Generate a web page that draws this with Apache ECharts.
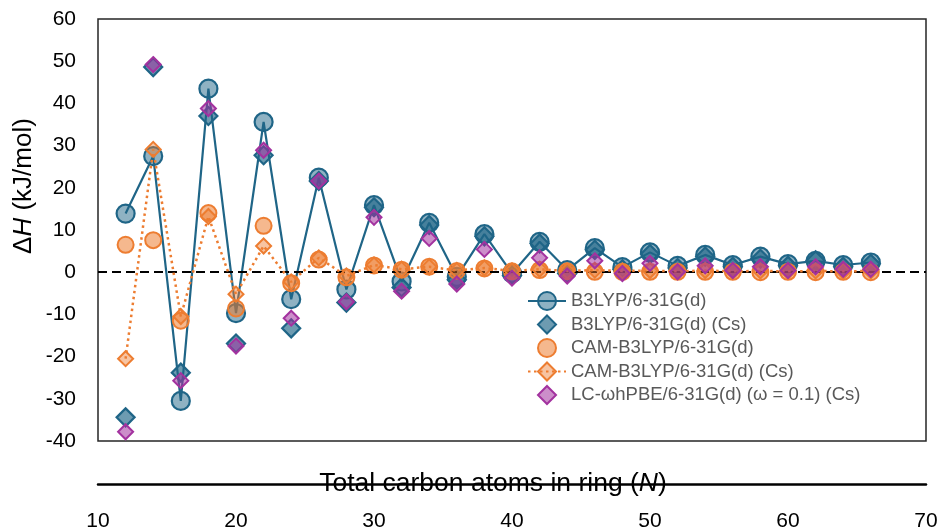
<!DOCTYPE html>
<html>
<head>
<meta charset="utf-8">
<script src="https://cdn.jsdelivr.net/npm/echarts@6/dist/echarts.min.js"></script>
<style>
html,body{margin:0;padding:0;background:#fff;}
#chart{width:940px;height:529px;}
</style>
</head>
<body>
<div id="chart"></div>
<script>
const carbons = [12,14,16,18,20,22,24,26,28,30,32,34,36,38,40,42,44,46,48,50,52,54,56,58,60,62,64,66];
const b3lyp   = [13.9, 27.5, -30.5, 43.5, -9.7, 35.6, -6.4, 22.4, -4.1, 15.9, -2.2, 11.7, -1.1, 9.0, -0.3, 7.2, 0.5, 5.7, 1.2, 4.7, 1.5, 4.1, 1.7, 3.7, 1.9, 2.7, 1.7, 2.3];
const b3lypCs = [-34.4, 48.6, -23.8, 37.0, -16.9, 27.7, -13.3, 21.6, -7.2, 15.4, -3.6, 11.2, -1.8, 8.5, -0.8, 6.8, -0.3, 5.3, 0.7, 4.3, 1.0, 3.7, 1.3, 3.2, 1.5, 2.8, 1.3, 2.0];
const cam     = [6.5, 7.6, -11.5, 14.0, -8.6, 11.0, -2.6, 3.0, -1.2, 1.6, 0.6, 1.3, 0.3, 0.9, 0.2, 0.5, 0.2, 0.1, 0.1, 0.1, 0.1, 0.1, 0.1, 0.0, 0.1, 0.0, 0.1, 0.0];
const camCs   = [-20.5, 29.1, -10.5, 13.2, -5.2, 6.2, -2.3, 3.4, -0.9, 1.7, 0.7, 1.3, 0.4, 1.0, 0.3, 0.7, 0.3, 0.5, 0.3, 0.4, 0.2, 0.4, 0.2, 0.3, 0.2, 0.3, 0.2, 0.3];
const lcCs    = [-37.8, 49.2, -25.7, 38.8, -17.5, 28.9, -10.9, 21.6, -7.0, 13.0, -4.5, 8.0, -2.8, 5.4, -1.4, 3.4, -0.9, 2.7, -0.3, 2.1, 0.1, 1.5, 0.4, 1.3, 0.4, 1.3, 0.7, 0.7];
const seriesNames = ['B3LYP/6-31G(d)', 'B3LYP/6-31G(d) (Cs)', 'CAM-B3LYP/6-31G(d)', 'CAM-B3LYP/6-31G(d) (Cs)', 'LC-\u03c9hPBE/6-31G(d) (\u03c9 = 0.1) (Cs)'];

const pairs = vals => vals.map((v, i) => [carbons[i], v]);
const FONT = '"Liberation Sans", Arial, sans-serif';
const TEAL = '#1f6587', ORANGE = '#ed7d31', PURPLE = '#a3329f';
const NOLINE = {width: 0, opacity: 0, color: 'rgba(0,0,0,0)'};

const chart = echarts.init(document.getElementById('chart'), null, {renderer: 'canvas'});
chart.setOption({
  animation: false,
  backgroundColor: '#fff',
  textStyle: {fontFamily: FONT},
  grid: {left: 98, right: 14, top: 19, bottom: 88, show: true, borderColor: '#262626', borderWidth: 1.5,
         backgroundColor: 'transparent', containLabel: false, outerBoundsMode: 'none'},
  xAxis: {
    type: 'value', min: 10, max: 70, interval: 10,
    offset: 43,
    axisLine: {show: true, onZero: false, lineStyle: {color: '#000', width: 2.5}},
    axisTick: {show: false},
    splitLine: {show: false},
    axisLabel: {color: '#000', fontSize: 21, fontFamily: FONT, margin: 27}
  },
  yAxis: {
    type: 'value', min: -40, max: 60, interval: 10,
    axisLine: {show: false}, axisTick: {show: false}, splitLine: {show: false},
    axisLabel: {color: '#000', fontSize: 21, fontFamily: FONT, margin: 22, padding: [7, 0, 0, 0]}
  },
  graphic: [{
    type: 'text', x: 24, y: 186, rotation: Math.PI / 2,
    style: {
      text: '{a|\u0394}{i|H}{a| (kJ/mol)}',
      align: 'center', verticalAlign: 'middle',
      rich: {a: {fontSize: 26, fill: '#000', fontFamily: FONT}, i: {fontSize: 26, fill: '#000', fontStyle: 'italic', fontFamily: FONT}}
    }
  }, {
    type: 'text', x: 493, y: 484, z: 100,
    style: {
      text: '{a|Total carbon atoms in ring (}{i|N}{a|)}',
      align: 'center', verticalAlign: 'middle',
      rich: {a: {fontSize: 26.5, fill: '#000', fontFamily: FONT}, i: {fontSize: 26.5, fill: '#000', fontStyle: 'italic', fontFamily: FONT}}
    }
  }],
  legend: {
    orient: 'vertical', left: 522, top: 286,
    itemWidth: 38, itemHeight: 22.5, itemGap: 3.5,
    textStyle: {color: '#595959', fontSize: 18.5, fontFamily: FONT},
    data: seriesNames
  },
  series: [
    {
      name: seriesNames[0], type: 'line', data: pairs(b3lyp),
      symbol: 'circle', symbolSize: 18,
      lineStyle: {color: TEAL, width: 2.2},
      itemStyle: {color: 'rgba(31,101,135,0.5)', borderColor: TEAL, borderWidth: 2.2},
      markLine: {silent: true, symbol: 'none', label: {show: false},
        lineStyle: {color: '#000', width: 2, type: [9, 5]},
        data: [{yAxis: 0}]},
      z: 2
    },
    {
      name: seriesNames[1], type: 'line', data: pairs(b3lypCs),
      symbol: 'diamond', symbolSize: 18,
      lineStyle: NOLINE,
      itemStyle: {color: 'rgba(31,101,135,0.65)', borderColor: TEAL, borderWidth: 2.2},
      z: 3
    },
    {
      name: seriesNames[2], type: 'line', data: pairs(cam),
      symbol: 'circle', symbolSize: 16,
      lineStyle: NOLINE,
      itemStyle: {color: 'rgba(237,125,49,0.55)', borderColor: ORANGE, borderWidth: 2},
      z: 4
    },
    {
      name: seriesNames[3], type: 'line', data: pairs(camCs),
      symbol: 'diamond', symbolSize: 15,
      lineStyle: {color: ORANGE, width: 2.5, type: [2.5, 3.5]},
      itemStyle: {color: 'rgba(237,125,49,0.45)', borderColor: ORANGE, borderWidth: 2},
      z: 5
    },
    {
      name: seriesNames[4], type: 'line', data: pairs(lcCs),
      symbol: 'diamond', symbolSize: 15,
      lineStyle: NOLINE,
      itemStyle: {color: 'rgba(163,50,159,0.55)', borderColor: PURPLE, borderWidth: 2},
      z: 6
    }
  ]
});
</script>
</body>
</html>
